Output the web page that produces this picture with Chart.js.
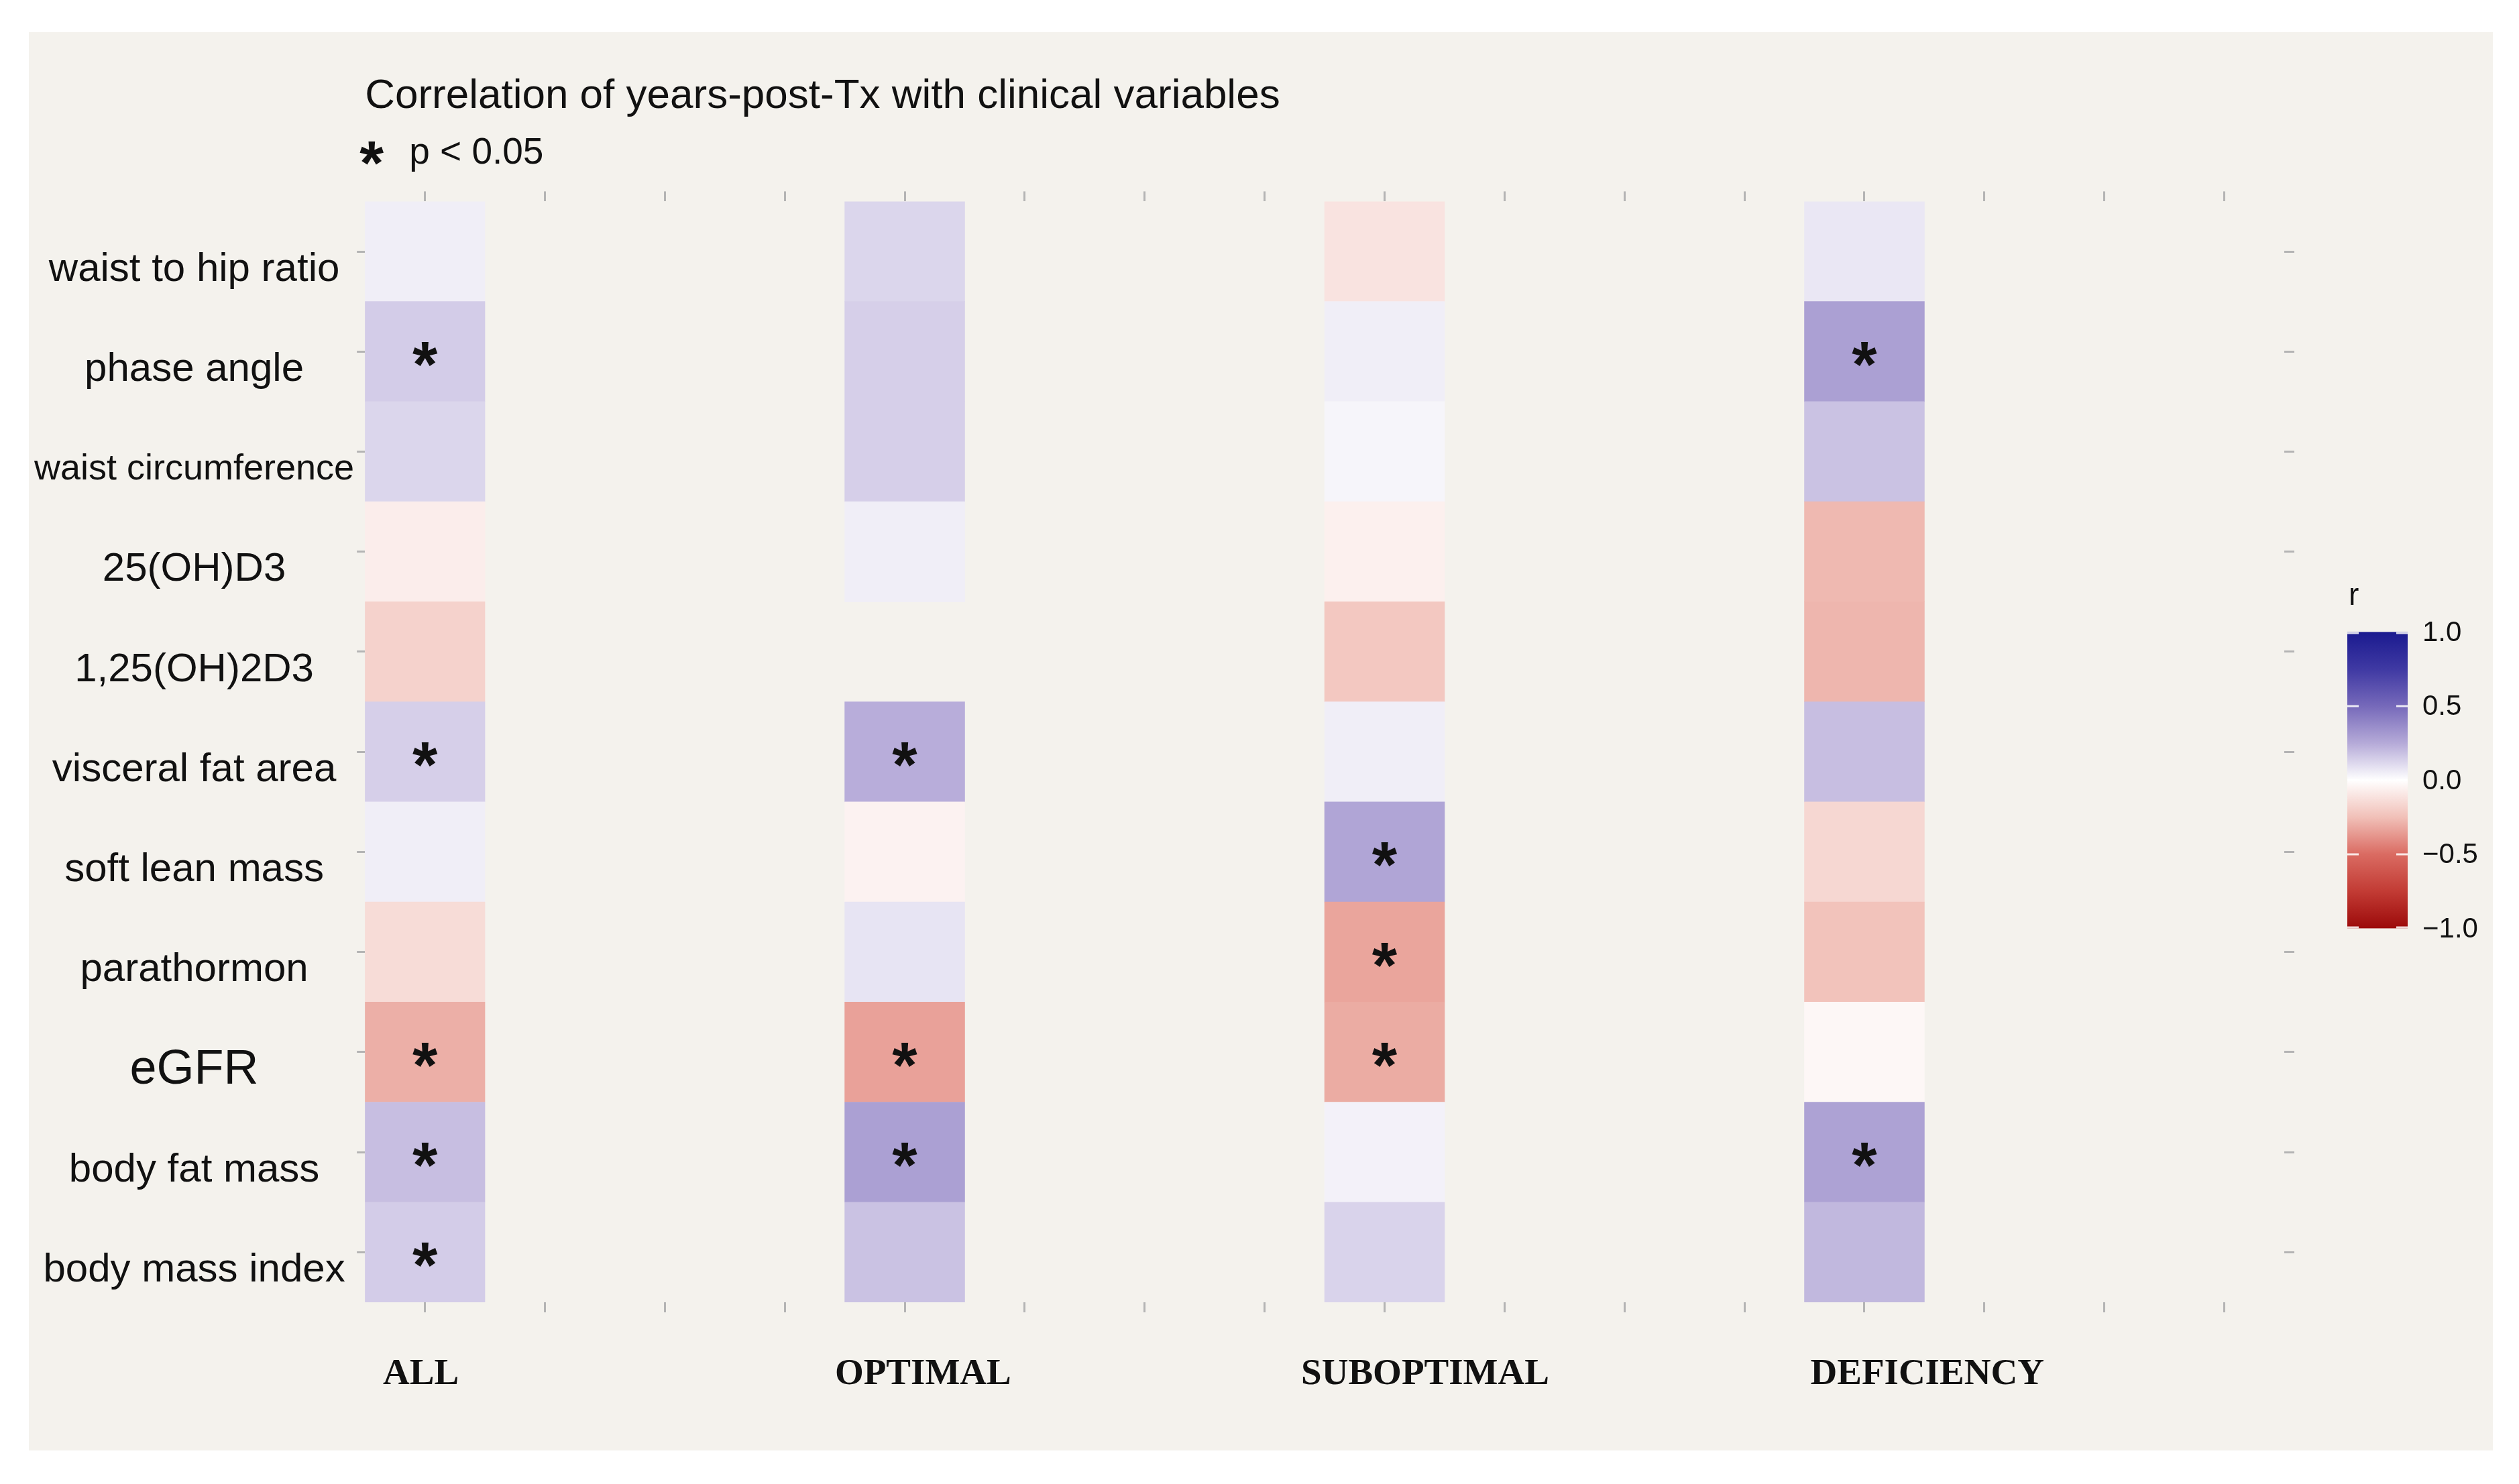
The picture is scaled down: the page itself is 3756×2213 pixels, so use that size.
<!DOCTYPE html>
<html>
<head>
<meta charset="utf-8">
<script src="https://cdn.jsdelivr.net/npm/chart.js@4.4.1/dist/chart.umd.min.js"></script>
<style>
  html, body { margin: 0; padding: 0; background: #ffffff; }
  #panel { position: absolute; left: 43px; top: 48px; width: 3674px; height: 2115px; background: #f4f2ed; }
  canvas { display: block; }
</style>
</head>
<body>
<div id="panel"><canvas id="c"></canvas></div>
<script>
// ---------------- data ----------------
const variables = ['waist to hip ratio', 'phase angle', 'waist circumference', '25(OH)D3', '1,25(OH)2D3',
  'visceral fat area', 'soft lean mass', 'parathormon', 'eGFR', 'body fat mass', 'body mass index'];
const groups = ['ALL', 'OPTIMAL', 'SUBOPTIMAL', 'DEFICIENCY'];

// correlation r (years-post-Tx vs variable)
const rAll        = [0.05, 0.15, 0.12, -0.07, -0.18, 0.14, 0.05, -0.14, -0.30, 0.19, 0.15];
const rOptimal    = [0.12, 0.14, 0.14, 0.05, null, 0.24, -0.05, 0.08, -0.34, 0.29, 0.18];
const rSuboptimal = [-0.11, 0.05, 0.03, -0.06, -0.22, 0.05, 0.27, -0.33, -0.31, 0.04, 0.13];
const rDeficiency = [0.07, 0.29, 0.18, -0.27, -0.28, 0.19, -0.16, -0.24, -0.03, 0.28, 0.21];

// significance p < 0.05 (1 = asterisk)
const sigAll        = [0, 1, 0, 0, 0, 1, 0, 0, 1, 1, 1];
const sigOptimal    = [0, 0, 0, 0, 0, 1, 0, 0, 1, 1, 0];
const sigSuboptimal = [0, 0, 0, 0, 0, 0, 1, 1, 1, 0, 0];
const sigDeficiency = [0, 1, 0, 0, 0, 0, 0, 0, 0, 1, 0];

const legendTicks = [1.0, 0.5, 0.0, -0.5, -1.0];
const legendTickLabels = ['1.0', '0.5', '0.0', '\u22120.5', '\u22121.0'];
const titleText = 'Correlation of years-post-Tx with clinical variables';
const keyText = 'p < 0.05';
const legendTitle = 'r';

// ---------------- styles ----------------
const colorStops = [
  [-1.0, '#9c0a0a'], [-0.75, '#c23b34'], [-0.5, '#da6b62'], [-0.25, '#f1c0b8'],
  [0.0, '#ffffff'],
  [0.25, '#b5aad8'], [0.5, '#7669ba'], [0.75, '#3f39a3'], [1.0, '#1a1a8f']
];
const tickColor = '#b4b4b4';
const textColor = '#111111';
const slotsPerGroup = 4;                       // x-axis slots per group column
const slotCount = groups.length * slotsPerGroup;

function hexToRgb(h) { return [1, 3, 5].map(i => parseInt(h.substr(i, 2), 16)); }
function colorFor(v) {
  for (let i = 0; i < colorStops.length - 1; i++) {
    const [v0, c0] = colorStops[i], [v1, c1] = colorStops[i + 1];
    if (v >= v0 && v <= v1) {
      const t = (v - v0) / (v1 - v0);
      const a = hexToRgb(c0), b = hexToRgb(c1);
      const m = a.map((x, k) => Math.round(x + (b[k] - x) * t));
      return `rgb(${m[0]},${m[1]},${m[2]})`;
    }
  }
  return '#ffffff';
}

const valuesByGroup = [rAll, rOptimal, rSuboptimal, rDeficiency];
const sigByGroup = [sigAll, sigOptimal, sigSuboptimal, sigDeficiency];

const datasets = groups.map((g, gi) => ({
  label: g,
  data: valuesByGroup[gi].map(v => v === null ? null : [gi * slotsPerGroup - 0.5, gi * slotsPerGroup + 0.5]),
  backgroundColor: valuesByGroup[gi].map(v => v === null ? 'rgba(0,0,0,0)' : colorFor(v)),
  borderWidth: 0,
  grouped: false,
  barPercentage: 1,
  categoryPercentage: 1
}));

function drawStar(ctx, cx, cy, size) {
  ctx.save();
  ctx.font = `bold ${size}px "Liberation Sans", Arial, sans-serif`;
  ctx.textAlign = 'center';
  ctx.textBaseline = 'alphabetic';
  const m = ctx.measureText('*');
  const asc = m.actualBoundingBoxAscent, desc = m.actualBoundingBoxDescent;
  ctx.fillStyle = textColor;
  ctx.fillText('*', cx, cy + (asc - desc) / 2);
  ctx.restore();
}

const starPlugin = {
  id: 'stars',
  afterDatasetsDraw(chart) {
    const ctx = chart.ctx;
    chart.data.datasets.forEach((ds, di) => {
      const meta = chart.getDatasetMeta(di);
      meta.data.forEach((el, i) => {
        if (!sigByGroup[di][i] || valuesByGroup[di][i] === null) return;
        const p = el.getProps(['x', 'y', 'base'], true);
        drawStar(ctx, (p.x + p.base) / 2, p.y + 4, 96);
      });
    });
  }
};

const keyAndLegendPlugin = {
  id: 'keyLegend',
  afterDraw(chart) {
    const ctx = chart.ctx, a = chart.chartArea;
    // significance key under the title
    const ky = a.top - 72;
    drawStar(ctx, a.left + 10, ky, 92);
    ctx.save();
    ctx.font = '55px "Liberation Sans", Arial, sans-serif';
    ctx.fillStyle = textColor;
    ctx.textAlign = 'left';
    ctx.textBaseline = 'middle';
    ctx.fillText(keyText, a.left + 66, ky);
    ctx.restore();

    // colour bar
    const left = a.right + 94, top = a.top + 642, w = 90, h = 442;
    const grad = ctx.createLinearGradient(0, top, 0, top + h);
    colorStops.forEach(([v, c]) => grad.addColorStop((1 - v) / 2, c));
    ctx.save();
    ctx.fillStyle = grad;
    ctx.fillRect(left, top, w, h);
    ctx.strokeStyle = 'rgba(255,255,255,0.85)';
    ctx.lineWidth = 3;
    ctx.font = '42px "Liberation Sans", Arial, sans-serif';
    ctx.fillStyle = textColor;
    ctx.textAlign = 'left';
    ctx.textBaseline = 'middle';
    legendTicks.forEach((v, i) => {
      const y = top + (1 - v) / 2 * h;
      const yy = Math.min(Math.max(y, top + 1.5), top + h - 1.5);
      ctx.beginPath();
      ctx.moveTo(left, yy); ctx.lineTo(left + 17, yy);
      ctx.moveTo(left + w - 17, yy); ctx.lineTo(left + w, yy);
      ctx.stroke();
      ctx.fillText(legendTickLabels[i], left + w + 22, y + 2);
    });
    ctx.font = '46px "Liberation Sans", Arial, sans-serif';
    ctx.textBaseline = 'alphabetic';
    ctx.fillText(legendTitle, left + 2, top - 40);
    ctx.restore();
  }
};

const tickGrid = (len) => ({ drawOnChartArea: false, drawTicks: true, offset: false, tickLength: len, color: tickColor, lineWidth: 3 });
const slotTicks = (scale) => { scale.ticks = Array.from({ length: slotCount }, (_, i) => ({ value: i })); };

Chart.defaults.font.family = '"Liberation Sans", Arial, sans-serif';
Chart.defaults.color = textColor;

new Chart(document.getElementById('c'), {
  type: 'bar',
  data: { labels: variables, datasets },
  options: {
    indexAxis: 'y',
    responsive: true,
    maintainAspectRatio: false,
    devicePixelRatio: 1,
    animation: false,
    events: [],
    layout: { padding: { left: 4, right: 296, top: 0, bottom: 20 } },
    plugins: {
      legend: { display: false },
      tooltip: { enabled: false },
      title: {
        display: true, text: titleText, align: 'start', fullSize: false,
        color: textColor,
        font: { size: 62, weight: 'normal', family: '"Liberation Sans", Arial, sans-serif' },
        padding: { top: 59, bottom: 104 }
      }
    },
    scales: {
      x: {
        type: 'linear', position: 'bottom', min: -0.5, max: slotCount - 0.5,
        afterBuildTicks: slotTicks,
        ticks: { display: false },
        grid: tickGrid(15), border: { display: false }
      },
      xTop: {
        type: 'linear', position: 'top', min: -0.5, max: slotCount - 0.5,
        afterBuildTicks: slotTicks,
        ticks: { display: false },
        grid: tickGrid(15), border: { display: false }
      },
      xGroups: {
        type: 'linear', position: 'bottom', min: -0.1115, max: 3.711,
        ticks: {
          stepSize: 1, includeBounds: false, padding: 60, maxRotation: 0, autoSkip: false,
          color: textColor,
          font: { size: 55, weight: 'bold', family: '"Liberation Serif", "Times New Roman", serif' },
          callback: (v) => (Number.isInteger(v) && groups[v] !== undefined) ? groups[v] : ''
        },
        grid: { display: false, drawTicks: false }, border: { display: false }
      },
      y: {
        type: 'category', position: 'left', offset: true,
        ticks: {
          crossAlign: 'center', labelOffset: 27, padding: 4, color: textColor, autoSkip: false,
          font: (c) => {
            const lab = variables[c.index];
            const size = lab === 'eGFR' ? 72 : (lab === 'waist circumference' ? 54 : 60);
            return { size, family: '"Liberation Sans", Arial, sans-serif' };
          }
        },
        grid: tickGrid(12), border: { display: false }
      },
      yRight: {
        type: 'category', position: 'right', offset: true,
        ticks: { display: false },
        grid: tickGrid(15), border: { display: false }
      }
    }
  },
  plugins: [starPlugin, keyAndLegendPlugin]
});
</script>
</body>
</html>
